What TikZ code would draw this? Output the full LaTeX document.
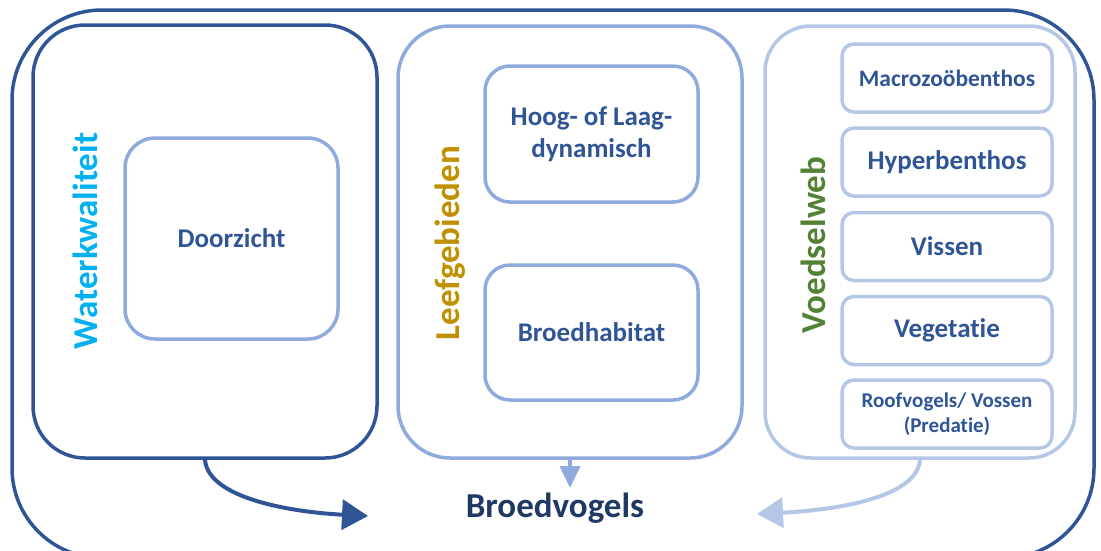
\documentclass[tikz,border=0pt]{standalone}
\usepackage{fontspec}
\setmainfont{Carlito}[Ligatures=NoCommon]
\usetikzlibrary{arrows.meta}
\definecolor{darkblue}{HTML}{2F5597}
\definecolor{midblue}{HTML}{8FAADC}
\definecolor{paleblue}{HTML}{B4C7E7}
\definecolor{cyanlabel}{HTML}{00B0F0}
\definecolor{goldlabel}{HTML}{BF9000}
\definecolor{greenlabel}{HTML}{548235}
\definecolor{navy}{HTML}{1F3864}
\begin{document}
\begin{tikzpicture}[x=1pt,y=-1pt,
  panel/.style={draw=#1, line width=3.5pt, rounded corners=52pt, inner sep=0pt},
  item/.style={draw=#1, line width=3.5pt, inner sep=0pt, align=center,
    text=darkblue, font=\bfseries\fontsize{27}{32}\selectfont},
  sidelabel/.style={rotate=90, text=#1, font=\bfseries\fontsize{35}{42}\selectfont},
  flow/.style={line width=4pt, draw=#1, -{Triangle[length=26pt,width=30pt]}}]
\useasboundingbox (0,0) rectangle (1101,550);
\clip (0,0) rectangle (1101,550);

% enclosing frame
\node[draw=darkblue, line width=3.5pt, rounded corners=90pt, inner sep=0pt,
  minimum width=1082pt, minimum height=548pt] (frame) at (553,284) {};

% three panels
\node[panel=darkblue, minimum width=344pt, minimum height=433pt] (wq) at (205,241.5) {};
\node[panel=midblue, minimum width=344pt, minimum height=432pt] (lg) at (570,242) {};
\node[panel=paleblue, rounded corners=46pt, minimum width=310pt, minimum height=432pt] (vw) at (920,242) {};

% panel titles
\node[sidelabel=cyanlabel] (wqt) at (85,241) {Waterkwaliteit};
\node[sidelabel=goldlabel] (lgt) at (450,243) {Leefgebieden};
\node[sidelabel=greenlabel] (vwt) at (813,245) {Voedselweb};

% Waterkwaliteit
\node[item=midblue, rounded corners=30pt, minimum width=213pt, minimum height=201pt] (dz) at (231.5,238.5) {Doorzicht};

% Leefgebieden
\node[item=midblue, rounded corners=25pt, minimum width=213pt, minimum height=136pt] (hl) at (591.5,134) {Hoog- of Laag-\\dynamisch};
\node[item=midblue, rounded corners=25pt, minimum width=213pt, minimum height=135pt] (bh) at (591.5,332.5) {Broedhabitat};

% Voedselweb
\tikzset{food/.style={item=paleblue, rounded corners=12pt, minimum width=210pt, minimum height=68pt}}
\node[food, font=\bfseries\fontsize{23.5}{28}\selectfont] (mz) at (947,78) {Macrozoöbenthos};
\node[food] (hb) at (947,162) {Hyperbenthos};
\node[food] (vi) at (947,246.5) {Vissen};
\node[food] (ve) at (947,330.5) {Vegetatie};
\node[food, font=\bfseries\fontsize{21}{25}\selectfont] (rv) at (947,414) {Roofvogels/ Vossen\\(Predatie)};

% target
\node[text=navy, font=\bfseries\fontsize{35}{42}\selectfont] (bv) at (555,508) {Broedvogels};

% arrows into the target
\coordinate (inL) at (368,516);
\coordinate (inR) at (757,514);
\draw[flow=darkblue] (wq.south) .. controls (208,498) and (290,512) .. (inL);
\draw[line width=4pt, draw=midblue, -{Triangle[length=22pt,width=20pt]}] (lg.south) -- (570,488);
\draw[flow=paleblue] (vw.south) .. controls (917,498) and (835,510) .. (inR);
\end{tikzpicture}
\end{document}
